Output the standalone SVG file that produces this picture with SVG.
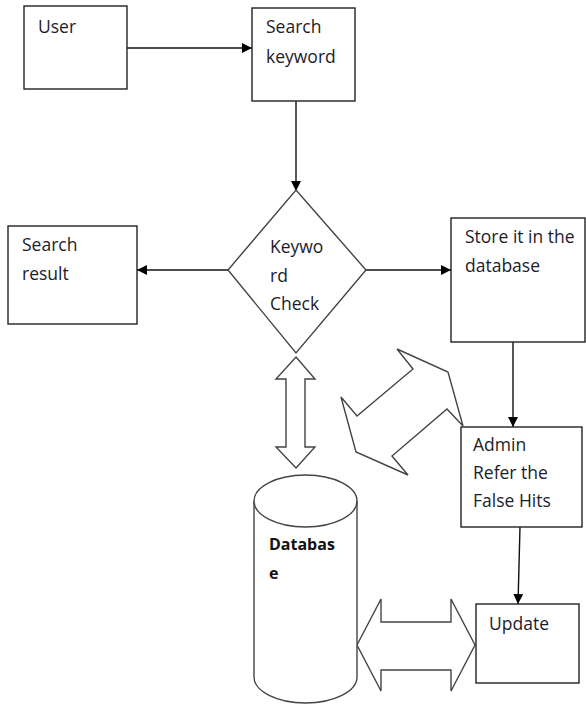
<svg xmlns="http://www.w3.org/2000/svg" width="586" height="704" viewBox="0 0 586 704">
<defs>
<style>
.box{fill:#fff;stroke:#222;stroke-width:1.4}
.shape{fill:#fff;stroke:#444;stroke-width:1.4}
.t{font-family:"Open Sans","Noto Sans",sans-serif;font-size:17.5px;fill:#1c1c2a}
.tb{font-family:"Open Sans","Noto Sans",sans-serif;font-size:16px;font-weight:bold;fill:#111}
.ln{fill:none;stroke:#111;stroke-width:1.4}
</style>
<marker id="ah" markerWidth="10" markerHeight="10" refX="10" refY="5" orient="auto" markerUnits="userSpaceOnUse">
<path d="M0,0 L10,5 L0,10 Z" fill="#000"/>
</marker>
</defs>
<rect width="586" height="704" fill="#fff"/>
<g id="connectors">
<line class="ln" x1="127" y1="48" x2="252" y2="48" marker-end="url(#ah)"/>
<line class="ln" x1="296" y1="101" x2="296" y2="191" marker-end="url(#ah)"/>
<line class="ln" x1="228" y1="270" x2="137" y2="270" marker-end="url(#ah)"/>
<line class="ln" x1="366" y1="270" x2="451" y2="270" marker-end="url(#ah)"/>
<line class="ln" x1="513" y1="342" x2="513" y2="427" marker-end="url(#ah)"/>
<line class="ln" x1="520" y1="527" x2="518" y2="604" marker-end="url(#ah)"/>
<polygon id="arrow-vertical" class="shape" points="296,357 315,379 305,379 305,447 315,447 296,468 276,447 286,447 286,379 276,379"/>
<polygon id="arrow-diagonal" class="shape" points="397,349 413,369 357,416 341,397 356,452 408,475 392,456 447,409 463,426 448,372"/>
<polygon id="arrow-horizontal" class="shape" points="357,645 381,599 381,622 451,622 451,599 475,645 451,691 451,670 381,670 381,691"/>
</g>
<g id="user">
<rect class="box" x="24" y="6" width="103" height="83"/>
<text class="t" x="38" y="33">User</text>
</g>
<g id="search-keyword">
<rect class="box" x="252" y="8" width="103" height="93"/>
<text class="t" x="266" y="33">Search</text>
<text class="t" x="266" y="63">keyword</text>
</g>
<g id="keyword-check">
<polygon class="shape" points="296,190 366,270 296,353 228,270"/>
<text class="t" x="270" y="253">Keywo</text>
<text class="t" x="270" y="282">rd</text>
<text class="t" x="270" y="310">Check</text>
</g>
<g id="search-result">
<rect class="box" x="8" y="226" width="129" height="98"/>
<text class="t" x="22" y="251">Search</text>
<text class="t" x="22" y="280">result</text>
</g>
<g id="store">
<rect class="box" x="451" y="218" width="134" height="124"/>
<text class="t" x="465" y="243">Store it in the</text>
<text class="t" x="465" y="272">database</text>
</g>
<g id="admin">
<rect class="box" x="461" y="427" width="121" height="100"/>
<text class="t" x="473" y="451">Admin</text>
<text class="t" x="473" y="479">Refer the</text>
<text class="t" x="473" y="507">False Hits</text>
</g>
<g id="update">
<rect class="box" x="476" y="604" width="103" height="79"/>
<text class="t" x="489" y="630">Update</text>
</g>
<g id="database">
<path class="shape" d="M254,501 L254,677 A51.5,26 0 0 0 357,677 L357,501"/>
<ellipse class="shape" cx="305.5" cy="501" rx="51.5" ry="26"/>
<text class="tb" x="269" y="550">Databas</text>
<text class="tb" x="269" y="579">e</text>
</g>
</svg>
